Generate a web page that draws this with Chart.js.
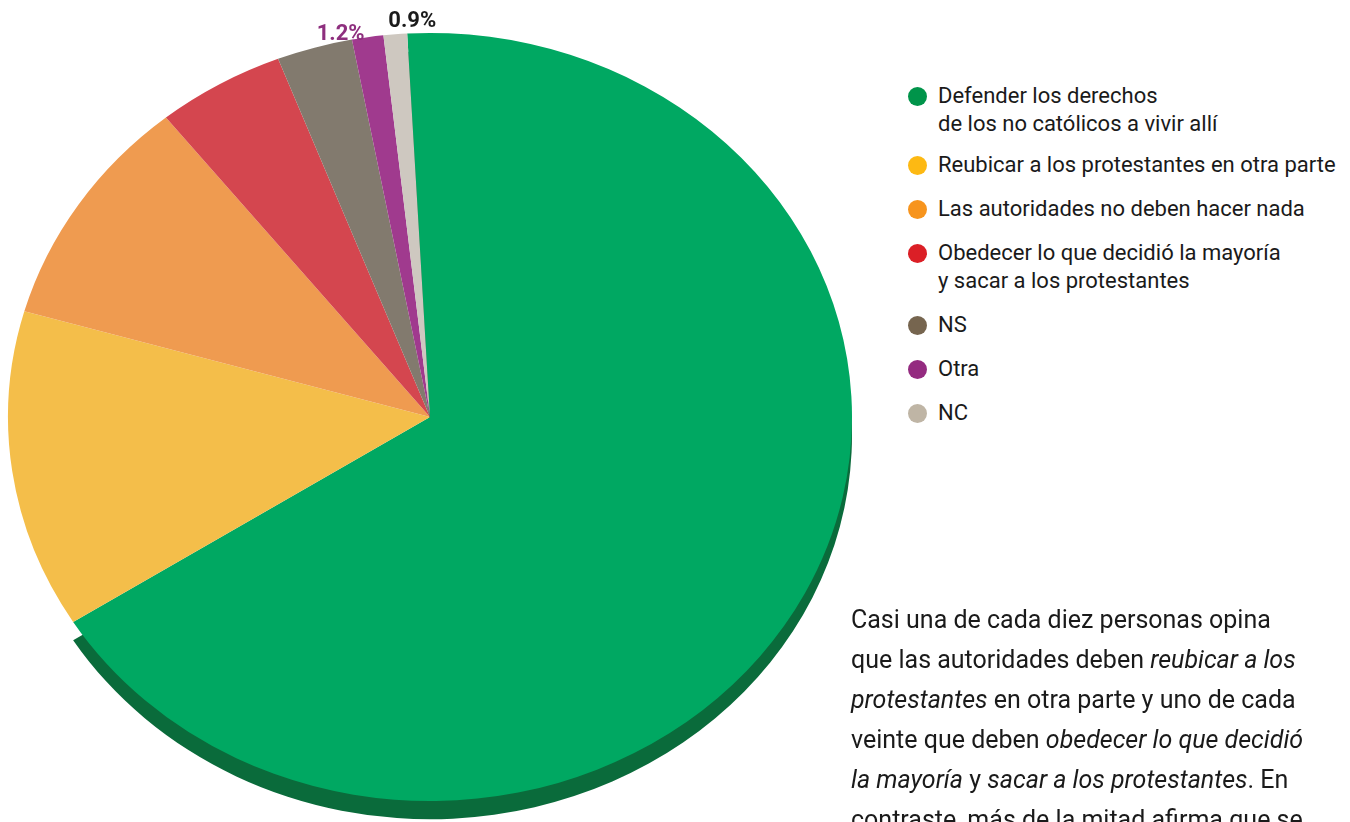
<!DOCTYPE html>
<html lang="es">
<head>
    <meta charset="UTF-8">
    <title>Autoridades y protestantes</title>
    <script src="https://cdn.jsdelivr.net/npm/chart.js"></script>
    <style>
        html, body { margin: 0; padding: 0; background: #fff; overflow: hidden; }
        body { width: 1350px; height: 822px; position: relative; font-family: Roboto, "DejaVu Sans", sans-serif; color: #1a1a1a; }
        .chart-box { position: absolute; left: 0; top: -20px; width: 860px; height: 874px; }
        #legend { position: absolute; left: 908px; top: 82px; }
        .item { display: flex; align-items: flex-start; font-size: 22px; line-height: 28px; margin-bottom: 16px; }
        .item:first-child { margin-bottom: 13px; }
        .dot { width: 19px; height: 19px; border-radius: 50%; margin-top: 5px; margin-right: 11px; flex: none; }
        #note { position: absolute; left: 851px; top: 600px; font-size: 25px; line-height: 40px; white-space: nowrap; }
    </style>
</head>
<body>
    <div class="chart-box">
        <canvas id="chart"></canvas>
    </div>

    <div id="legend"></div>

    <div id="note">
        Casi una de cada diez personas opina<br>
        que las autoridades deben <i>reubicar a los</i><br>
        <i>protestantes</i> en otra parte y uno de cada<br>
        veinte que deben <i>obedecer lo que decidió</i><br>
        <i>la mayoría</i> y <i>sacar a los protestantes</i>. En<br>
        contraste, más de la mitad afirma que se
    </div>

    <script>
        const labels = [
            ['Defender los derechos', 'de los no católicos a vivir allí'],
            ['Reubicar a los protestantes en otra parte'],
            ['Las autoridades no deben hacer nada'],
            ['Obedecer lo que decidió la mayoría', 'y sacar a los protestantes'],
            ['NS'],
            ['Otra'],
            ['NC']
        ];
        const values = [66.9, 13.4, 9.8, 4.9, 2.9, 1.2, 0.9];
        const shownPct = [false, false, false, false, false, true, true];

        const sliceColors = ['#00a862', '#f4be4a', '#ef9b50', '#d4464f', '#827a6e', '#a03a8e', '#cec8c0'];
        // only the green slice shows its side in the picture
        const rimColors = ['#0a6b3b', null, null, null, null, null, null];
        const dotColors = ['#00944a', '#fdb913', '#f7941d', '#db1f26', '#76654f', '#942b80', '#bfb5a5'];
        const pctColors = [null, null, null, null, null, '#8e2f7e', '#1a1a1a'];

        const tilt = 0.91;
        const rimDepth = 20;

        // legend
        const legend = document.getElementById('legend');
        labels.forEach((lines, i) => {
            const item = document.createElement('div');
            item.className = 'item';
            const dot = document.createElement('span');
            dot.className = 'dot';
            dot.style.background = dotColors[i];
            const txt = document.createElement('span');
            txt.innerHTML = lines.join('<br>');
            item.appendChild(dot);
            item.appendChild(txt);
            legend.appendChild(item);
        });

        const pieTilt = {
            id: 'pieTilt',
            beforeDatasetsDraw(chart) {
                const ctx = chart.ctx;
                const arcs = chart.getDatasetMeta(0).data;
                const cx = arcs[0].x, cy = arcs[0].y;
                ctx.save();
                ctx.translate(cx, cy);
                ctx.scale(1, tilt);
                ctx.translate(-cx, -cy);
                // the side of the disc
                arcs.forEach((a, i) => {
                    if (!rimColors[i]) return;
                    ctx.beginPath();
                    ctx.moveTo(a.x, a.y + rimDepth);
                    ctx.arc(a.x, a.y + rimDepth, a.outerRadius, a.startAngle, a.endAngle);
                    ctx.closePath();
                    ctx.fillStyle = rimColors[i];
                    ctx.fill();
                });
            },
            afterDatasetsDraw(chart) {
                const ctx = chart.ctx;
                ctx.restore();
                const arcs = chart.getDatasetMeta(0).data;
                ctx.save();
                ctx.font = 'bold 22px Roboto, sans-serif';
                arcs.forEach((a, i) => {
                    if (!shownPct[i]) return;
                    const mid = (a.startAngle + a.endAngle) / 2;
                    const px = a.x + a.outerRadius * Math.cos(mid);
                    const py = a.y + a.outerRadius * Math.sin(mid) * tilt;
                    ctx.fillStyle = pctColors[i];
                    ctx.textBaseline = 'alphabetic';
                    const text = values[i].toFixed(1) + '%';
                    if (i === 5) {
                        ctx.textAlign = 'right';
                        ctx.fillText(text, px - 3, py + 3);
                    } else {
                        ctx.textAlign = 'center';
                        ctx.fillText(text, px + 17, py - 7);
                    }
                });
                ctx.restore();
            }
        };

        const ctx = document.getElementById('chart').getContext('2d');
        new Chart(ctx, {
            type: 'pie',
            data: {
                labels: labels.map(l => l.join(' ')),
                datasets: [{
                    data: values,
                    backgroundColor: sliceColors,
                    borderWidth: 0
                }]
            },
            options: {
                responsive: true,
                maintainAspectRatio: false,
                animation: false,
                rotation: -3.1,
                layout: { padding: { left: 8, right: 8, top: 15, bottom: 15 } },
                plugins: {
                    legend: { display: false },
                    tooltip: { enabled: false }
                }
            },
            plugins: [pieTilt]
        });
    </script>
</body>
</html>
